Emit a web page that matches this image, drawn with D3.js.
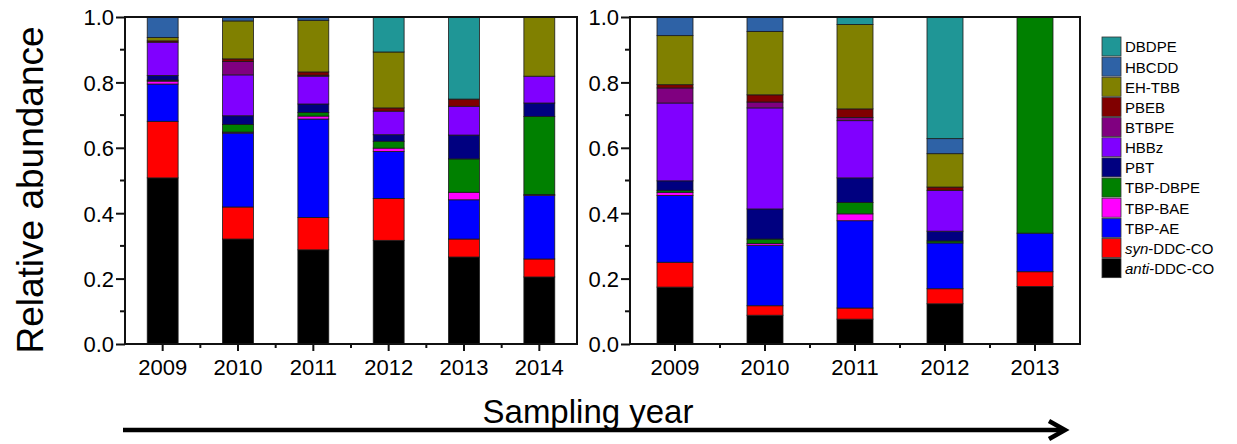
<!DOCTYPE html>
<html>
<head>
<meta charset="utf-8">
<script src="https://d3js.org/d3.v7.min.js"></script>
<style type="text/css">
  body{
    margin: 0;
    background: white;
  }
  svg text{
    font-family: 'Liberation Sans', Arial, sans-serif;
    fill: black;
  }
</style>
</head>
<body>

<svg id="chart" width="1237" height="444"></svg>

<script>

// compounds, bottom of the stack first
var compounds = ["anti-DDC-CO", "syn-DDC-CO", "TBP-AE", "TBP-BAE", "TBP-DBPE", "PBT",
                 "HBBz", "BTBPE", "PBEB", "EH-TBB", "HBCDD", "DBDPE"];

var colors = ["#000000", "#ff0000", "#0000ff", "#ff00ff", "#008000", "#000080",
              "#8000ff", "#800080", "#800000", "#808000", "#2e62a6", "#1f9696"];

var yearsLeft = ["2009", "2010", "2011", "2012", "2013", "2014"];
var yearsRight = ["2009", "2010", "2011", "2012", "2013"];

// relative abundance per year, same order as compounds
var left2009 = [0.508, 0.173, 0.114, 0.009, 0.003, 0.014, 0.102, 0.000, 0.004, 0.010, 0.063, 0.000];
var left2010 = [0.321, 0.098, 0.226, 0.003, 0.023, 0.027, 0.125, 0.041, 0.008, 0.116, 0.012, 0.000];
var left2011 = [0.288, 0.099, 0.301, 0.009, 0.011, 0.026, 0.085, 0.003, 0.010, 0.158, 0.010, 0.000];
var left2012 = [0.317, 0.128, 0.144, 0.010, 0.021, 0.020, 0.072, 0.000, 0.010, 0.171, 0.000, 0.107];
var left2013 = [0.266, 0.055, 0.120, 0.023, 0.102, 0.073, 0.088, 0.000, 0.022, 0.000, 0.000, 0.251];
var left2014 = [0.205, 0.055, 0.194, 0.003, 0.239, 0.041, 0.082, 0.000, 0.000, 0.181, 0.000, 0.000];

var right2009 = [0.174, 0.076, 0.204, 0.010, 0.006, 0.029, 0.238, 0.046, 0.010, 0.150, 0.057, 0.000];
var right2010 = [0.088, 0.029, 0.185, 0.005, 0.014, 0.092, 0.309, 0.018, 0.022, 0.194, 0.044, 0.000];
var right2011 = [0.076, 0.034, 0.267, 0.021, 0.035, 0.075, 0.175, 0.010, 0.026, 0.258, 0.000, 0.023];
var right2012 = [0.123, 0.046, 0.140, 0.000, 0.006, 0.030, 0.125, 0.000, 0.010, 0.102, 0.046, 0.372];
var right2013 = [0.176, 0.045, 0.118, 0.000, 0.661, 0.000, 0.000, 0.000, 0.000, 0.000, 0.000, 0.000];

var yTicks = [0, 0.2, 0.4, 0.6, 0.8, 1.0];
var yMinorTicks = [0.1, 0.3, 0.5, 0.7, 0.9];

var svg = d3.select("#chart");

var plotTop = 17, plotBottom = 344;

var y = d3.scaleLinear().domain([0, 1]).range([plotBottom, plotTop]);

var color = d3.scaleOrdinal().domain(compounds).range(colors);

function toRows(years, rows) {
  return years.map(function(yr, i) {
    var o = {year: yr};
    compounds.forEach(function(c, j) { o[c] = rows[i][j]; });
    return o;
  });
}

function drawPanel(years, rows, x0, x1, pad) {

  var data = toRows(years, rows);

  var x = d3.scaleBand()
    .domain(years)
    .range([x0, x1])
    .paddingInner(pad)
    .paddingOuter(pad / 2);

  var stacked = d3.stack().keys(compounds)(data);

  var g = svg.append("g");

  g.selectAll(".layer")
    .data(stacked)
    .enter()
    .append("g")
    .attr("class", "layer")
    .attr("fill", function(d) { return color(d.key); })
    .selectAll("rect")
    .data(function(d) { return d.filter(function(s) { return s[1] - s[0] > 0; }); })
    .enter()
    .append("rect")
    .attr("x", function(d) { return x(d.data.year); })
    .attr("width", x.bandwidth())
    .attr("y", function(d) { return y(d[1]); })
    .attr("height", function(d) { return y(d[0]) - y(d[1]); })
    .attr("stroke", "#1a1a1a")
    .attr("stroke-width", 0.8);

  // frame
  g.append("rect")
    .attr("x", x0)
    .attr("y", plotTop)
    .attr("width", x1 - x0)
    .attr("height", plotBottom - plotTop)
    .attr("fill", "none")
    .attr("stroke", "#111")
    .attr("stroke-width", 2);

  // y axis
  var yAxis = d3.axisLeft(y)
    .tickValues(yTicks)
    .tickSize(9)
    .tickPadding(2)
    .tickFormat(d3.format(".1f"));

  var ya = g.append("g")
    .attr("transform", "translate(" + x0 + ",0)")
    .call(yAxis);
  ya.select(".domain").remove();
  ya.selectAll("line").attr("stroke", "#111").attr("stroke-width", 2);
  ya.selectAll("text")
    .style("font-size", "22px")
    .attr("dy", "0.36em");

  g.selectAll(".yminor")
    .data(yMinorTicks)
    .enter()
    .append("line")
    .attr("x1", x0 - 5)
    .attr("x2", x0)
    .attr("y1", function(d) { return y(d); })
    .attr("y2", function(d) { return y(d); })
    .attr("stroke", "#111")
    .attr("stroke-width", 2);

  // x axis
  var xAxis = d3.axisBottom(x)
    .tickSize(7)
    .tickPadding(8);

  var xa = g.append("g")
    .attr("transform", "translate(0," + plotBottom + ")")
    .call(xAxis);
  xa.select(".domain").remove();
  xa.selectAll("line").attr("stroke", "#111").attr("stroke-width", 2);
  xa.selectAll("text")
    .style("font-size", "22px")
    .attr("dy", "0.71em");

  var step = x.step();
  var minor = d3.range(1, years.length).map(function(i) { return x0 + i * step; });

  g.selectAll(".xminor")
    .data(minor)
    .enter()
    .append("line")
    .attr("x1", function(d) { return d; })
    .attr("x2", function(d) { return d; })
    .attr("y1", plotBottom)
    .attr("y2", plotBottom + 4)
    .attr("stroke", "#111")
    .attr("stroke-width", 2);
}

drawPanel(yearsLeft, [left2009, left2010, left2011, left2012, left2013, left2014], 125, 577, 0.59);
drawPanel(yearsRight, [right2009, right2010, right2011, right2012, right2013], 630, 1080, 0.6);

// axis titles
svg.append("text")
  .attr("transform", "translate(43,190) rotate(-90)")
  .attr("text-anchor", "middle")
  .style("font-size", "37px")
  .text("Relative abundance");

svg.append("text")
  .attr("x", 588)
  .attr("y", 423)
  .attr("text-anchor", "middle")
  .style("font-size", "33px")
  .text("Sampling year");

// arrow
svg.append("line")
  .attr("x1", 123)
  .attr("x2", 1064)
  .attr("y1", 430)
  .attr("y2", 430)
  .attr("stroke", "black")
  .attr("stroke-width", 4.5);

svg.append("path")
  .attr("d", "M1049,421 L1065,430 L1049,439")
  .attr("fill", "none")
  .attr("stroke", "black")
  .attr("stroke-width", 4.5)
  .attr("stroke-linejoin", "miter");

// legend, top item is the top of the stack
var legendItems = compounds.slice().reverse();

var legend = svg.append("g")
  .attr("transform", "translate(1102,37)");

var item = legend.selectAll(".item")
  .data(legendItems)
  .enter()
  .append("g")
  .attr("class", "item")
  .attr("transform", function(d, i) { return "translate(0," + (i * 20.15) + ")"; });

item.append("rect")
  .attr("width", 19)
  .attr("height", 19)
  .attr("fill", function(d) { return color(d); })
  .attr("stroke", "#333")
  .attr("stroke-width", 0.8);

var label = item.append("text")
  .attr("x", 23)
  .attr("y", 10)
  .attr("dy", "0.36em")
  .style("font-size", "15px");

label.each(function(d) {
  var t = d3.select(this);
  var m = d.match(/^(anti|syn)(-.*)$/);
  if (m) {
    t.append("tspan").style("font-style", "italic").text(m[1]);
    t.append("tspan").text(m[2]);
  } else {
    t.text(d);
  }
});

</script>

</body>
</html>
